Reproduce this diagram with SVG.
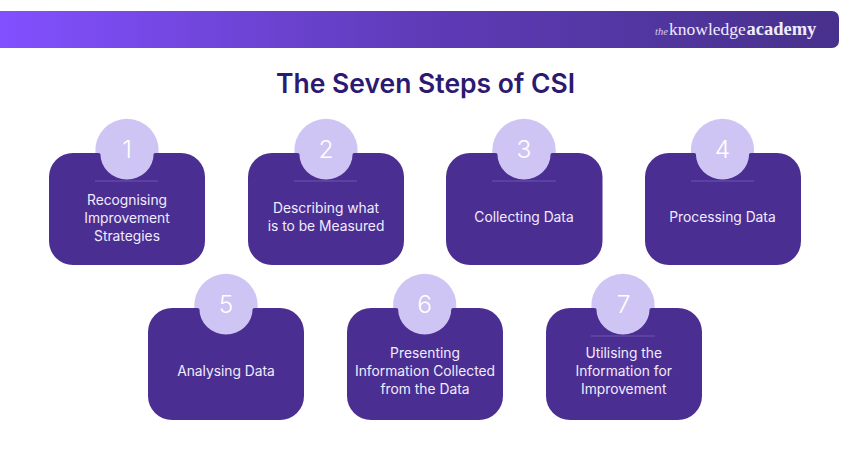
<svg xmlns="http://www.w3.org/2000/svg" width="850" height="450" viewBox="0 0 850 450">
<style>
.card{fill:#4b2e91}
.disc{fill:#cfc5f4}
.rule{stroke:#6f55b0;stroke-width:1}
.num{font:300 24.5px Inter,"Noto Sans",sans-serif;fill:#fff;text-anchor:middle}
.lbl{font:400 13.8px Inter,"Noto Sans",sans-serif;fill:#f0ecff;text-anchor:middle}
</style>
<defs>
<linearGradient id="bar" x1="0" x2="1" y1="0" y2="0"><stop offset="0" stop-color="#8250ff"/><stop offset=".5" stop-color="#5f3bb8"/><stop offset="1" stop-color="#47318c"/></linearGradient>
<path id="disc" class="disc" d="M-31.6 2A31.7 31.7 0 1 1 31.6 2H29Q27 2 26.6 3A26.6 25.5 0 0 1-26.6 3Q-27 2-29 2Z"/>
</defs>
<rect width="850" height="450" fill="#fff"/>
<path d="M0 11H832a7 7 0 0 1 7 7V41a7 7 0 0 1-7 7H0Z" fill="url(#bar)"/>
<text x="655" y="35" font-family="Liberation Serif,serif" font-size="10.500" font-style="italic" fill="#d5ccf0">the</text>
<text x="669" y="35" font-family="Liberation Serif,serif" font-size="17.500" fill="#f0ecff">knowledge</text>
<text x="746.500" y="35" font-family="Liberation Serif,serif" font-size="18.500" font-weight="700" fill="#f0ecff">academy</text>
<text x="425.500" y="93" text-anchor="middle" font-family="Inter,sans-serif" font-size="26.500" font-weight="600" fill="#2c1a72">The Seven Steps of CSI</text>
<g id="connectors"></g>
<g id="node1"><rect class="card" x="49" y="153" width="156" height="112" rx="24"/><line class="rule" x1="95" x2="158" y1="181" y2="181"/><use href="#disc" x="127" y="151"/><text class="num" x="127" y="158">1</text><text class="lbl" x="127" y="205">Recognising</text><text class="lbl" x="127" y="223">Improvement</text><text class="lbl" x="127" y="241">Strategies</text></g>
<g id="node2"><rect class="card" x="248" y="153" width="156" height="112" rx="24"/><line class="rule" x1="294" x2="357" y1="181" y2="181"/><use href="#disc" x="326" y="151"/><text class="num" x="326" y="158">2</text><text class="lbl" x="326" y="213">Describing what</text><text class="lbl" x="326" y="231">is to be Measured</text></g>
<g id="node3"><rect class="card" x="446" y="153" width="156.500" height="112" rx="24"/><line class="rule" x1="492" x2="556" y1="181" y2="181"/><use href="#disc" x="524" y="151"/><text class="num" x="524" y="158">3</text><text class="lbl" x="524" y="222">Collecting Data</text></g>
<g id="node4"><rect class="card" x="645" y="153" width="156" height="112" rx="24"/><line class="rule" x1="691" x2="754" y1="181" y2="181"/><use href="#disc" x="722.500" y="151"/><text class="num" x="722.500" y="158">4</text><text class="lbl" x="722.500" y="222">Processing Data</text></g>
<g id="node5"><rect class="card" x="148" y="308" width="156" height="112" rx="24"/><use href="#disc" x="226" y="306"/><text class="num" x="226" y="313">5</text><text class="lbl" x="226" y="376">Analysing Data</text></g>
<g id="node6"><rect class="card" x="347" y="308" width="156" height="112" rx="24"/><use href="#disc" x="424.700" y="306"/><text class="num" x="424.700" y="313">6</text><text class="lbl" x="425" y="358">Presenting</text><text class="lbl" x="425" y="376">Information Collected</text><text class="lbl" x="425" y="394">from the Data</text></g>
<g id="node7"><rect class="card" x="546" y="308" width="156" height="112" rx="24"/><line class="rule" x1="591" x2="655" y1="336" y2="336"/><use href="#disc" x="623" y="306"/><text class="num" x="623.500" y="313">7</text><text class="lbl" x="623.700" y="358">Utilising the</text><text class="lbl" x="623.700" y="376">Information for</text><text class="lbl" x="623.700" y="394">Improvement</text></g>
</svg>
